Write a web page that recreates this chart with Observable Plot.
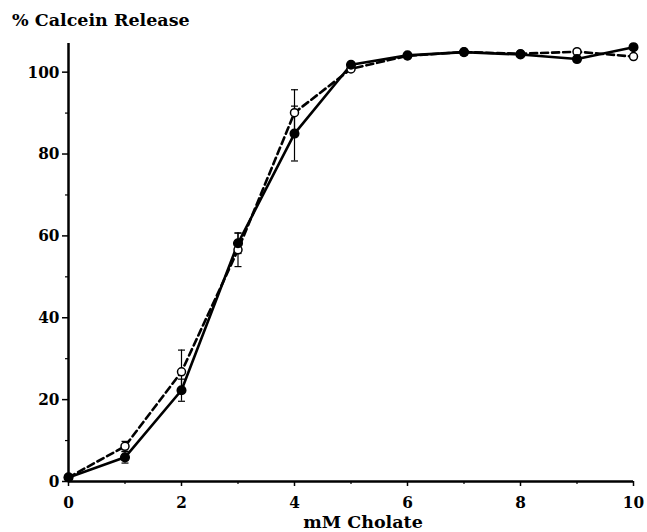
<!DOCTYPE html>
<html>
<head>
<meta charset="utf-8">
<script src="https://cdn.jsdelivr.net/npm/d3@7"></script>
<script src="https://cdn.jsdelivr.net/npm/@observablehq/plot@0.6"></script>
<style>
  html, body { margin: 0; padding: 0; background: #fff; }
  #wrap { position: relative; width: 647px; height: 532px; }
  #title { position: absolute; left: 12px; top: 10px; font-family: "DejaVu Serif", serif; font-weight: bold; font-size: 17.5px; line-height: 1.164; color: #000; white-space: nowrap; }
  svg { font-family: "DejaVu Serif", serif; font-stretch: condensed; font-weight: bold; }
</style>
</head>
<body>
<div id="wrap"><div id="title">% Calcein Release</div></div>
<script>
const cholate = [0, 1, 2, 3, 4, 5, 6, 7, 8, 9, 10];
const solidRelease = [1, 5.9, 22.3, 58.2, 85.0, 101.8, 104.1, 104.9, 104.3, 103.2, 106.1];
const solidError   = [0, 1.4, 2.7, 2.5, 6.7, 0, 0, 0, 0, 0, 0];
const openRelease  = [1, 8.6, 26.8, 56.6, 90.1, 100.8, 104.0, 104.9, 104.5, 105.0, 103.8];
const openError    = [0, 1.2, 5.3, 4.1, 5.6, 0, 0, 0, 0, 0, 0];
const xMajorTicks = [0, 2, 4, 6, 8, 10];
const xMinorTicks = [1, 3, 5, 7, 9];
const yMajorTicks = [0, 20, 40, 60, 80, 100];
const yMinorTicks = [10, 30, 50, 70, 90];
const xTitle = "mM Cholate";

const solid = cholate.map((x, i) => ({x, y: solidRelease[i], e: solidError[i]}));
const open = cholate.map((x, i) => ({x, y: openRelease[i], e: openError[i]}));
const errs = [...solid, ...open].filter(d => d.e > 0);

const capSymbol = {
  draw(ctx, size) { const r = 3.5; ctx.moveTo(-r, 0); ctx.lineTo(r, 0); }
};

const chart = Plot.plot({
  width: 647,
  height: 532,
  marginLeft: 68,
  marginRight: 14,
  marginTop: 43,
  marginBottom: 51,
  style: {fontSize: "17px", fontFamily: "'DejaVu Serif', serif", fontWeight: "bold", background: "white", color: "black"},
  x: {domain: [0, 10]},
  y: {domain: [0, 107]},
  marks: [
    Plot.ruleX([0], {stroke: "black", strokeWidth: 2.5}),
    Plot.ruleY([0], {stroke: "black", strokeWidth: 2.5}),
    Plot.axisY(yMajorTicks, {tickSize: 6, tickPadding: 3, strokeWidth: 1.5, label: null, fontSize: 17}),
    Plot.axisY(yMinorTicks, {tickSize: 3, text: null, strokeWidth: 1.2, label: null}),
    Plot.axisX(xMajorTicks, {tickSize: 5, tickPadding: 9, strokeWidth: 1.5, label: null, fontSize: 17}),
    Plot.axisX(xMinorTicks, {tickSize: 3, text: null, strokeWidth: 1.2, label: null}),
    Plot.text([xTitle], {text: d => d, frameAnchor: "bottom", dx: 12, dy: 46, lineAnchor: "bottom", fontSize: 17.5, fontWeight: "bold", fill: "black", style: "font-stretch: normal"}),
    Plot.ruleX(errs, {x: "x", y1: d => d.y - d.e, y2: d => d.y + d.e, stroke: "black", strokeWidth: 1.2}),
    Plot.dot(errs, {x: "x", y: d => d.y - d.e, symbol: capSymbol, stroke: "black", strokeWidth: 1.2, r: 4}),
    Plot.dot(errs, {x: "x", y: d => d.y + d.e, symbol: capSymbol, stroke: "black", strokeWidth: 1.2, r: 4}),
    Plot.line(open, {x: "x", y: "y", stroke: "black", strokeWidth: 2.6, strokeDasharray: "7,4"}),
    Plot.line(solid, {x: "x", y: "y", stroke: "black", strokeWidth: 2.6}),
    Plot.dot(open, {x: "x", y: "y", r: 4, fill: "white", stroke: "black", strokeWidth: 1.5}),
    Plot.dot(solid, {x: "x", y: "y", r: 4.3, fill: "black", stroke: "black"})
  ]
});
chart.querySelectorAll("text").forEach(t => { if (t.textContent === xTitle) t.style.fontStretch = "normal"; });
document.getElementById("wrap").prepend(chart);
</script>
</body>
</html>
